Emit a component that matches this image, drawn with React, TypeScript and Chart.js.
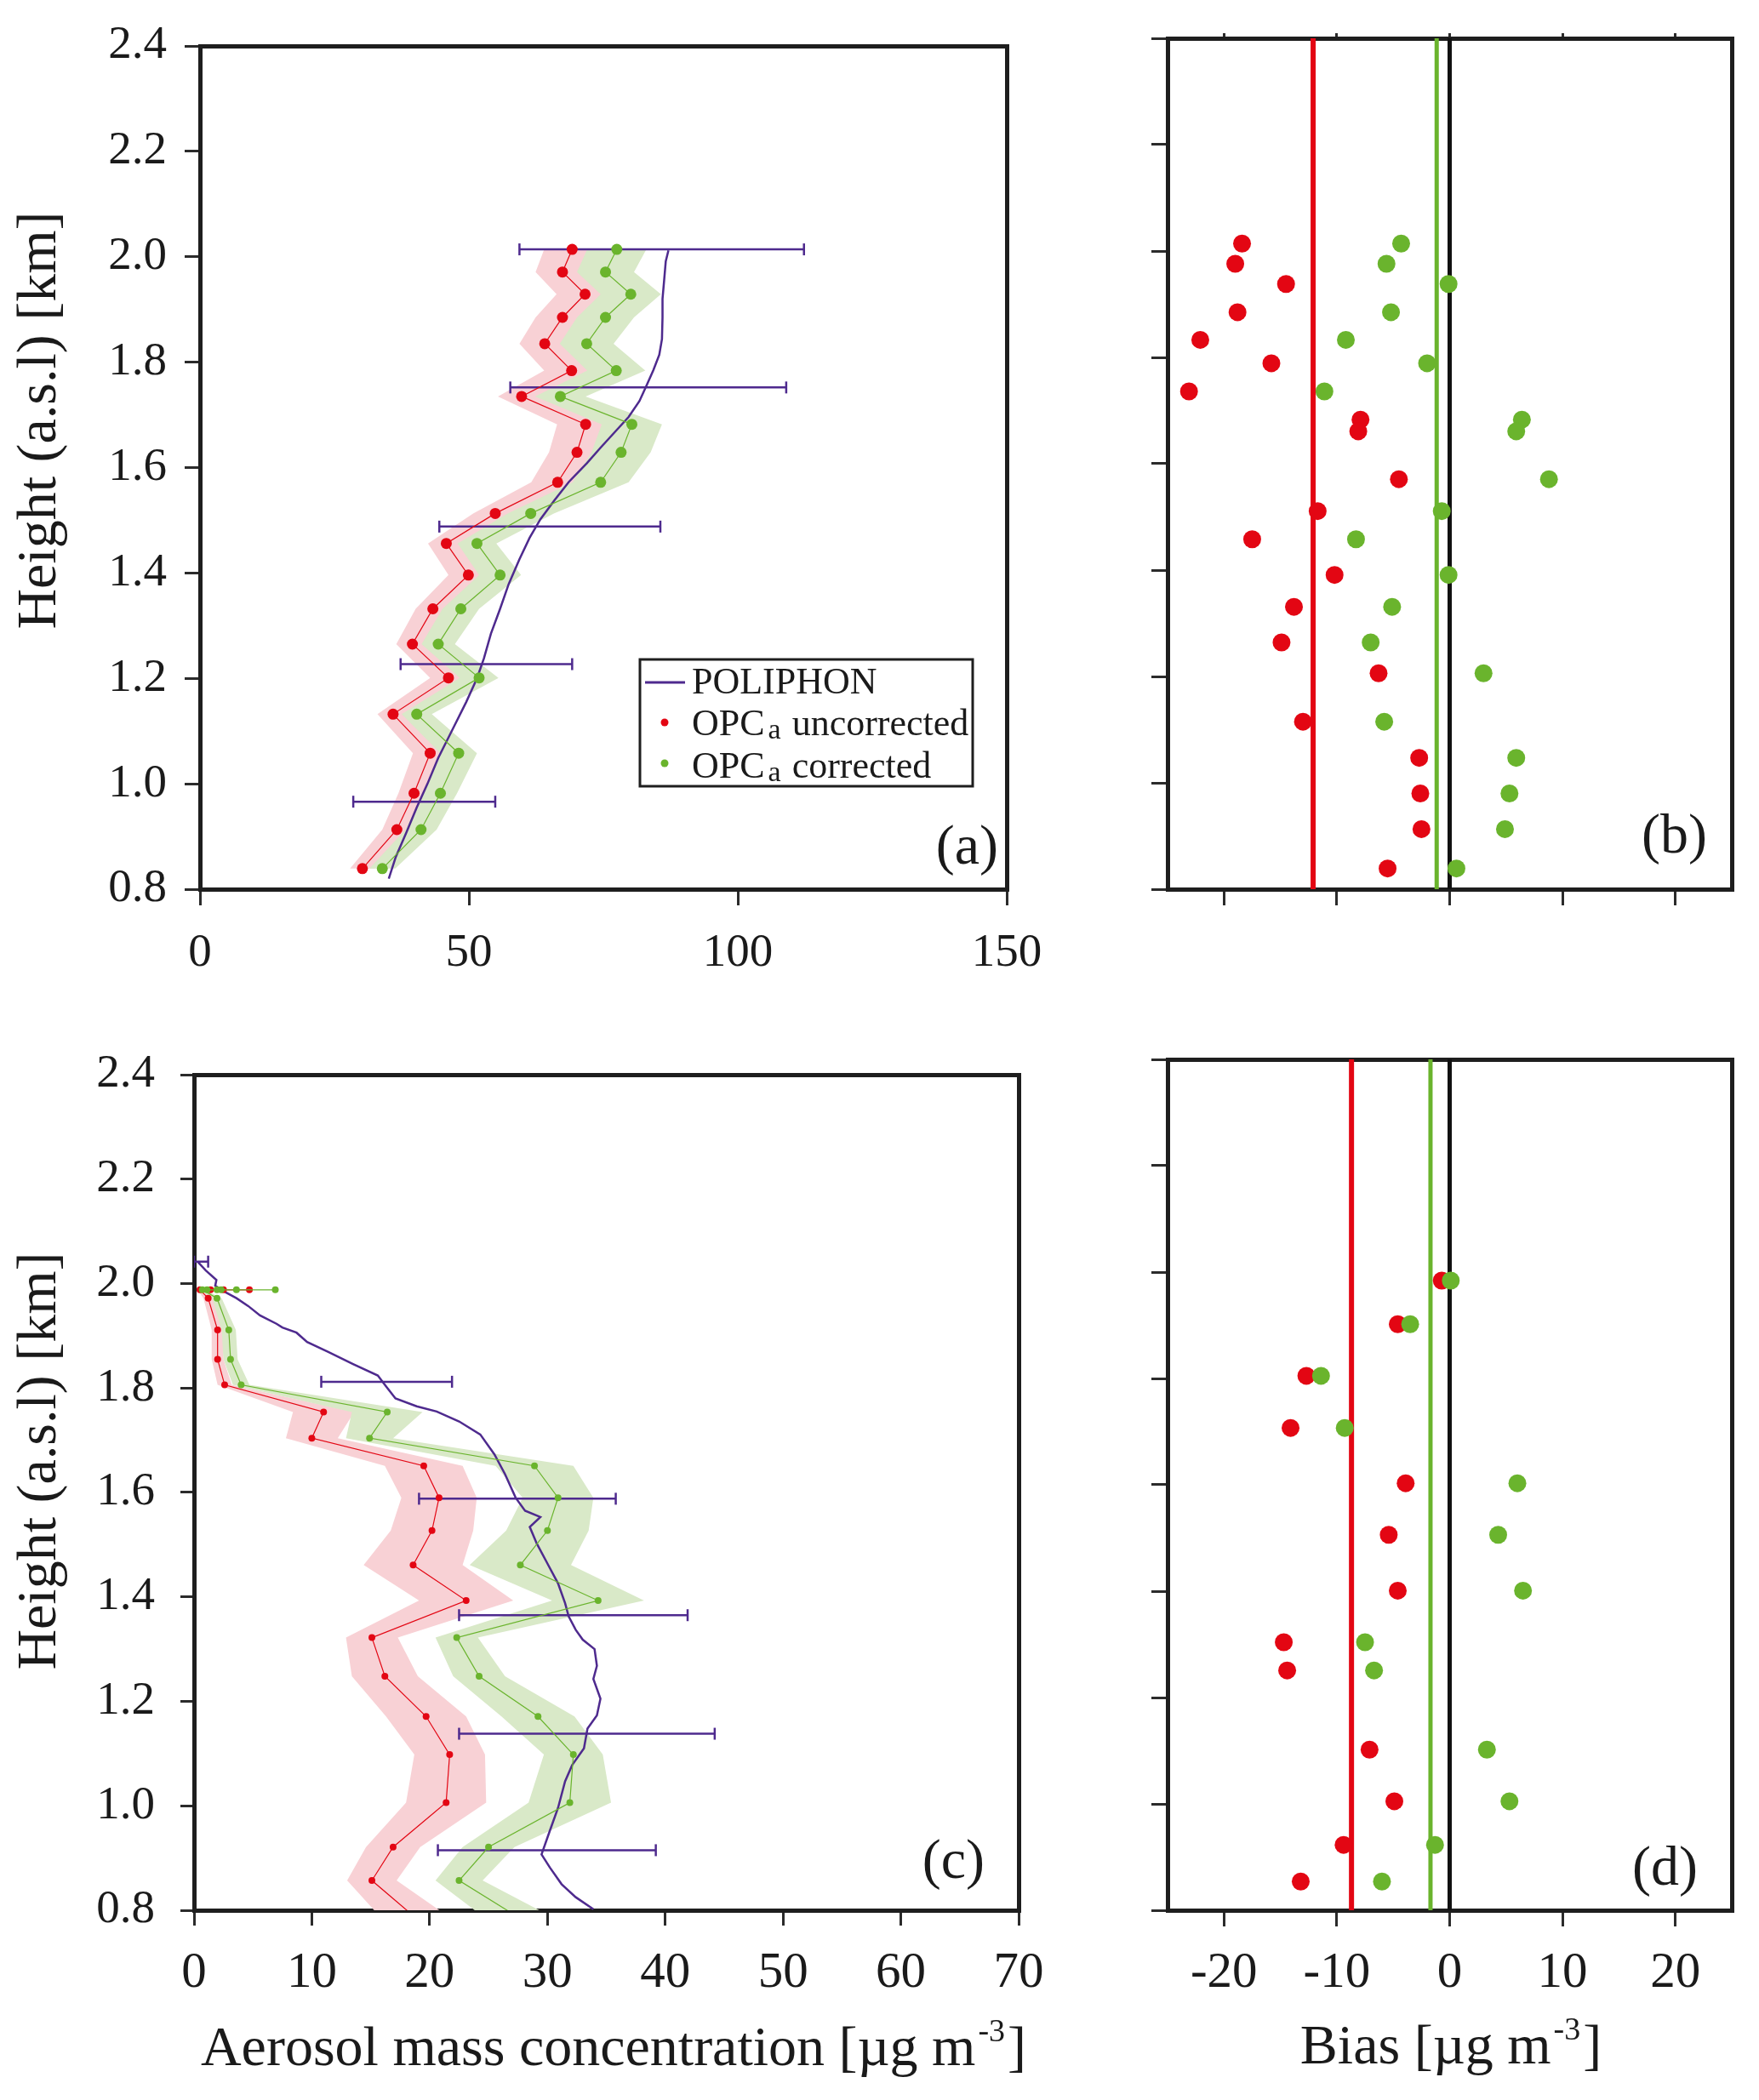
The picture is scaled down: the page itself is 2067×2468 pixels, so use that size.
import React, { useEffect, useRef } from 'react';
import { Chart, registerables } from 'chart.js';

Chart.register(...registerables);

// ---------------- styles ----------------
const FONT = '"Liberation Serif", "Times New Roman", serif';
const TEXT = '#1a1a1a';
const FRAME = '#1e1e1e';
const TICK = '#2b2b2b';
const RED = '#e30613';
const GREEN = '#6ab42d';
const PURPLE = '#4e2a8e';
const RED_BAND = '#f8d1d5';
const GREEN_BAND = '#d9e9c8';

// ---------------- ticks ----------------
const heightTicks = [0.8, 1.0, 1.2, 1.4, 1.6, 1.8, 2.0, 2.2, 2.4];
const concTicksA = [0, 50, 100, 150];
const concTicksC = [0, 10, 20, 30, 40, 50, 60, 70];
const biasTicks = [-20, -10, 0, 10, 20];
const HEIGHT_MIN = 0.8;
const HEIGHT_MAX = 2.4;

// ---------------- panel (a) ----------------
const aHeights = [2.014, 1.971, 1.929, 1.885, 1.835, 1.784, 1.735, 1.682, 1.629, 1.572, 1.513, 1.456, 1.396, 1.332, 1.265, 1.201, 1.132, 1.058, 0.982, 0.913, 0.839];
const aUncorrected = [69.2, 67.4, 71.6, 67.4, 64.1, 69.1, 59.8, 71.7, 70.1, 66.5, 54.9, 45.8, 49.9, 43.3, 39.5, 46.2, 35.9, 42.8, 39.8, 36.6, 30.2];
const aUncorrectedErr = [5.2, 5.0, 5.3, 5.0, 4.7, 5.1, 4.4, 5.3, 5.2, 4.9, 4.1, 3.4, 3.7, 3.2, 3.0, 3.4, 2.9, 3.2, 2.9, 2.7, 2.3];
const aCorrected = [77.5, 75.4, 80.1, 75.4, 71.9, 77.4, 67.0, 80.3, 78.3, 74.5, 61.5, 51.5, 55.8, 48.5, 44.3, 51.9, 40.3, 48.1, 44.7, 41.1, 33.9];
const aCorrectedErr = [5.5, 5.3, 5.6, 5.3, 5.0, 5.4, 4.7, 5.6, 5.5, 5.2, 4.3, 3.6, 3.9, 3.4, 3.1, 3.6, 2.8, 3.4, 3.1, 2.9, 2.4];
const aPoliphonConc = [35.1, 36.4, 38.4, 40.3, 42.3, 44.3, 46.9, 49.5, 51.5, 52.8, 54.1, 55.8, 57.4, 59.4, 61.3, 63.3, 65.9, 68.6, 71.9, 74.5, 77.1, 79.7, 81.7, 83.0, 84.3, 85.4, 85.9, 86.0, 86.0, 86.3, 86.6, 87.1];
const aPoliphonHeight = [0.820, 0.861, 0.908, 0.955, 1.000, 1.049, 1.102, 1.155, 1.200, 1.238, 1.285, 1.332, 1.379, 1.426, 1.467, 1.502, 1.538, 1.573, 1.608, 1.638, 1.667, 1.696, 1.726, 1.755, 1.785, 1.814, 1.844, 1.885, 1.920, 1.955, 1.991, 2.012];
const aErrHeights = [2.014, 1.752, 1.488, 1.227, 0.966];
const aErrLow = [59.4, 57.7, 44.5, 37.3, 28.5];
const aErrHigh = [112.3, 109.0, 85.6, 69.2, 54.9];

// ---------------- panel (b) ----------------
const bHeights = [2.014, 1.976, 1.938, 1.885, 1.833, 1.789, 1.736, 1.683, 1.661, 1.571, 1.511, 1.458, 1.391, 1.331, 1.264, 1.206, 1.115, 1.047, 0.980, 0.913, 0.839];
const bUncorrected = [-18.4, -19.0, -14.5, -18.8, -22.1, -15.8, -23.1, -7.9, -8.1, -4.5, -11.7, -17.5, -10.2, -13.8, -14.9, -6.3, -13.0, -2.7, -2.6, -2.5, -5.5];
const bCorrected = [-4.3, -5.6, -0.1, -5.2, -9.2, -2.0, -11.1, 6.4, 5.9, 8.8, -0.7, -8.3, -0.1, -5.1, -7.0, 3.0, -5.8, 5.9, 5.3, 4.9, 0.6];
const bMeanUncorrected = -12.1;
const bMeanCorrected = -1.15;

// ---------------- panel (c) ----------------
const cUncHeights = [1.988, 1.988, 1.988, 1.988, 1.972, 1.911, 1.855, 1.806, 1.754, 1.704, 1.651, 1.590, 1.527, 1.461, 1.393, 1.322, 1.248, 1.171, 1.098, 1.006, 0.921, 0.857, 0.780];
const cUncorrected = [4.7, 2.5, 1.4, 0.5, 1.2, 2.0, 2.0, 2.6, 11.0, 10.0, 19.5, 20.8, 20.2, 18.6, 23.1, 15.1, 16.2, 19.7, 21.7, 21.4, 16.9, 15.1, 19.1];
const cUncorrectedErr = [0.2, 0.2, 0.2, 0.2, 0.4, 0.5, 0.5, 0.6, 2.6, 2.2, 3.3, 3.2, 3.5, 4.2, 4.0, 2.2, 2.8, 3.4, 3.0, 3.4, 2.3, 2.1, 3.0];
const cCorHeights = [1.988, 1.988, 1.988, 1.988, 1.988, 1.988, 1.972, 1.911, 1.855, 1.806, 1.754, 1.704, 1.651, 1.590, 1.527, 1.461, 1.393, 1.322, 1.248, 1.171, 1.098, 1.006, 0.921, 0.857, 0.780];
const cCorrected = [6.9, 3.6, 2.3, 1.95, 1.1, 0.7, 1.95, 2.95, 3.1, 4.0, 16.4, 14.9, 28.9, 30.9, 30.0, 27.7, 34.3, 22.3, 24.2, 29.2, 32.2, 31.9, 25.0, 22.5, 28.0];
const cCorrectedErr = [0.2, 0.2, 0.2, 0.2, 0.2, 0.2, 0.4, 0.6, 0.6, 0.7, 3.0, 2.0, 3.3, 3.0, 3.5, 4.3, 3.9, 1.8, 2.2, 3.1, 2.5, 3.5, 2.2, 2.0, 3.0];
const cPoliphonConc = [0.3, 1.0, 1.9, 1.8, 2.7, 3.6, 4.6, 5.6, 7.0, 7.5, 8.7, 9.6, 11.4, 13.5, 15.6, 16.2, 17.1, 18.9, 20.6, 22.5, 24.3, 25.5, 26.4, 27.3, 28.1, 29.4, 28.5, 29.1, 30.0, 30.9, 31.5, 31.8, 32.4, 33.0, 34.0, 34.2, 33.9, 34.5, 34.2, 33.4, 33.1, 32.1, 31.5, 30.9, 30.2, 29.5, 30.2, 31.2, 32.4, 33.9];
const cPoliphonHeight = [2.042, 2.025, 2.007, 1.996, 1.983, 1.972, 1.957, 1.939, 1.923, 1.916, 1.906, 1.888, 1.869, 1.846, 1.824, 1.806, 1.780, 1.765, 1.755, 1.736, 1.711, 1.673, 1.635, 1.590, 1.565, 1.553, 1.534, 1.502, 1.464, 1.426, 1.388, 1.363, 1.337, 1.318, 1.300, 1.268, 1.243, 1.205, 1.173, 1.148, 1.110, 1.078, 1.047, 0.996, 0.952, 0.907, 0.882, 0.850, 0.825, 0.802];
const cErrHeights = [2.042, 1.812, 1.588, 1.365, 1.138, 0.915];
const cErrLow = [0.0, 10.8, 19.1, 22.5, 22.5, 20.7];
const cErrHigh = [1.2, 21.9, 35.8, 41.9, 44.2, 39.2];

// ---------------- panel (d) ----------------
const dHeights = [1.984, 1.902, 1.805, 1.707, 1.603, 1.506, 1.401, 1.304, 1.251, 1.102, 1.005, 0.923, 0.854];
const dUncorrected = [-0.7, -4.6, -12.7, -14.1, -3.9, -5.4, -4.6, -14.7, -14.4, -7.1, -4.9, -9.4, -13.2];
const dCorrected = [0.1, -3.5, -11.4, -9.3, 6.0, 4.3, 6.5, -7.5, -6.7, 3.3, 5.3, -1.3, -6.0];
const dMeanUncorrected = -8.7;
const dMeanCorrected = -1.7;

// ---------------- helpers ----------------
type Box = { left: number; top: number; width: number; height: number };

const xy = (xs: number[], ys: number[]) => xs.map((x, i) => ({ x, y: ys[i] }));

const bandPolygon = (vals: number[], errs: number[], hs: number[]) => [
  ...vals.map((v, i) => ({ x: v - errs[i], y: hs[i] })),
  ...vals.map((v, i) => ({ x: v + errs[i], y: hs[i] })).reverse(),
];

const profile = (xs: number[], hs: number[], color: string, r: number, clip?: number) => ({
  data: xy(xs, hs),
  showLine: true,
  borderColor: color,
  borderWidth: 1.2,
  pointRadius: r,
  pointHoverRadius: r,
  pointBackgroundColor: color,
  pointBorderColor: color,
  pointBorderWidth: 0,
  ...(clip !== undefined ? { clip } : {}),
});

const dots = (xs: number[], hs: number[], color: string, r: number) => ({
  data: xy(xs, hs),
  showLine: false,
  pointRadius: r,
  pointHoverRadius: r,
  pointBackgroundColor: color,
  pointBorderColor: color,
  pointBorderWidth: 0,
});

const band = (vals: number[], errs: number[], hs: number[], color: string, clip?: number) => ({
  data: bandPolygon(vals, errs, hs),
  showLine: true,
  fill: 'shape',
  backgroundColor: color,
  borderColor: 'rgba(0,0,0,0)',
  borderWidth: 0.01,
  pointRadius: 0,
  pointHoverRadius: 0,
  ...(clip !== undefined ? { clip } : {}),
});

const curve = (xs: number[], hs: number[], color: string, w: number) => ({
  data: xy(xs, hs),
  showLine: true,
  borderColor: color,
  borderWidth: w,
  pointRadius: 0,
  pointHoverRadius: 0,
});

const errorBars = (lo: number[], hi: number[], hs: number[]) =>
  hs.map((h, i) => ({
    data: [{ x: lo[i], y: h }, { x: hi[i], y: h }],
    showLine: true,
    borderColor: PURPLE,
    borderWidth: 2.5,
    pointStyle: 'line',
    rotation: 90,
    pointRadius: 7,
    pointHoverRadius: 7,
    pointBorderColor: PURPLE,
    pointBorderWidth: 2.5,
  }));

const vline = (v: number, color: string, w: number) => ({
  data: [{ x: v, y: HEIGHT_MIN }, { x: v, y: HEIGHT_MAX }],
  showLine: true,
  borderColor: color,
  borderWidth: w,
  pointRadius: 0,
  pointHoverRadius: 0,
});

interface FrameOpts {
  xMin: number; xMax: number; xTicks: number[]; xLabels: boolean; yLabels: boolean;
  yAxisWidth: number; xAxisHeight: number; topAxisHeight: number;
  yTickLen: number; yLabelPad: number; xTickLen: number; xLabelPad: number;
  xFontSize: number; yFontSize: number;
}

function frameScales(o: FrameOpts) {
  const grid = (tickLength: number, drawTicks: boolean) => ({
    display: true,
    drawOnChartArea: false,
    drawTicks,
    tickLength,
    tickWidth: 3,
    tickColor: TICK,
    lineWidth: 5,
    color: FRAME,
  });
  const border = { display: true, width: 5, color: FRAME };
  return {
    x: {
      type: 'linear', position: 'bottom', min: o.xMin, max: o.xMax, z: 1,
      afterBuildTicks: (s: any) => { s.ticks = o.xTicks.map((v) => ({ value: v })); },
      afterFit: (s: any) => { s.height = o.xAxisHeight; },
      grid: grid(o.xTickLen, true), border,
      ticks: { display: o.xLabels, padding: o.xLabelPad, font: { family: FONT, size: o.xFontSize }, color: TEXT, maxRotation: 0, minRotation: 0, autoSkip: false, callback: (v: any) => String(v) },
    },
    x2: {
      type: 'linear', position: 'top', min: o.xMin, max: o.xMax, z: 1,
      afterBuildTicks: (s: any) => { s.ticks = o.xTicks.map((v) => ({ value: v })); },
      afterFit: (s: any) => { s.height = o.topAxisHeight; },
      grid: grid(6, o.topAxisHeight > 0), border,
      ticks: { display: false },
    },
    y: {
      type: 'linear', position: 'left', min: HEIGHT_MIN, max: HEIGHT_MAX, z: 1,
      afterBuildTicks: (s: any) => { s.ticks = heightTicks.map((v) => ({ value: v })); },
      afterFit: (s: any) => { s.width = o.yAxisWidth; },
      grid: grid(o.yTickLen, true), border,
      ticks: { display: o.yLabels, padding: o.yLabelPad, font: { family: FONT, size: o.yFontSize }, color: TEXT, autoSkip: false, callback: (v: any) => Number(v).toFixed(1) },
    },
    y2: {
      type: 'linear', position: 'right', min: HEIGHT_MIN, max: HEIGHT_MAX, z: 1,
      afterFit: (s: any) => { s.width = 0; },
      grid: grid(0, false), border,
      ticks: { display: false },
    },
  };
}

// ---------- text drawing helpers (page coordinates) ----------
function rotatedTitle(ctx: CanvasRenderingContext2D, text: string, x: number, y: number) {
  ctx.save();
  ctx.translate(x, y);
  ctx.rotate(-Math.PI / 2);
  ctx.font = `66px ${FONT}`;
  ctx.fillStyle = TEXT;
  ctx.textAlign = 'center';
  ctx.textBaseline = 'middle';
  ctx.fillText(text, 0, 0);
  ctx.restore();
}

function unitTitle(ctx: CanvasRenderingContext2D, prefix: string, cx: number, baseline: number) {
  const main = `${prefix} [\u00b5g m`;
  ctx.save();
  ctx.fillStyle = TEXT;
  ctx.textAlign = 'left';
  ctx.textBaseline = 'alphabetic';
  ctx.font = `66px ${FONT}`;
  const w1 = ctx.measureText(main).width;
  const w3 = ctx.measureText(']').width;
  ctx.font = `38px ${FONT}`;
  const w2 = ctx.measureText('-3').width;
  let x = cx - (w1 + w2 + w3 + 6) / 2;
  ctx.font = `66px ${FONT}`;
  ctx.fillText(main, x, baseline);
  x += w1 + 3;
  ctx.font = `38px ${FONT}`;
  ctx.fillText('-3', x, baseline - 28);
  x += w2 + 3;
  ctx.font = `66px ${FONT}`;
  ctx.fillText(']', x, baseline);
  ctx.restore();
}

function panelLabel(ctx: CanvasRenderingContext2D, text: string, right: number, cy: number) {
  ctx.save();
  ctx.font = `66px ${FONT}`;
  ctx.fillStyle = TEXT;
  ctx.textAlign = 'right';
  ctx.textBaseline = 'middle';
  ctx.fillText(text, right, cy);
  ctx.restore();
}

function legendBox(ctx: CanvasRenderingContext2D) {
  ctx.save();
  ctx.fillStyle = '#ffffff';
  ctx.fillRect(752, 775, 391, 149);
  ctx.lineWidth = 3;
  ctx.strokeStyle = FRAME;
  ctx.strokeRect(752, 775, 391, 149);
  ctx.strokeStyle = PURPLE;
  ctx.lineWidth = 3;
  ctx.beginPath();
  ctx.moveTo(758, 802);
  ctx.lineTo(805, 802);
  ctx.stroke();
  ctx.fillStyle = TEXT;
  ctx.textAlign = 'left';
  ctx.textBaseline = 'alphabetic';
  ctx.font = `44px ${FONT}`;
  ctx.fillText('POLIPHON', 813, 815);
  const entries: [string, string, number, number][] = [
    [RED, ' uncorrected', 849, 864],
    [GREEN, ' corrected', 897, 914],
  ];
  for (const [col, rest, dotY, base] of entries) {
    ctx.fillStyle = col;
    ctx.beginPath();
    ctx.arc(781, dotY, 4.5, 0, Math.PI * 2);
    ctx.fill();
    ctx.fillStyle = TEXT;
    ctx.font = `44px ${FONT}`;
    ctx.fillText('OPC', 813, base);
    const w = ctx.measureText('OPC').width;
    ctx.font = `34px ${FONT}`;
    ctx.fillText('a', 813 + w + 4, base + 4);
    const wa = ctx.measureText('a').width;
    ctx.font = `44px ${FONT}`;
    ctx.fillText(rest, 813 + w + 6 + wa, base);
  }
  ctx.restore();
}

function decoPlugin(box: Box, draw: (ctx: CanvasRenderingContext2D) => void) {
  return {
    id: 'deco',
    afterDraw(chart: any) {
      const ctx = chart.ctx as CanvasRenderingContext2D;
      ctx.save();
      ctx.translate(-box.left, -box.top);
      draw(ctx);
      ctx.restore();
    },
  };
}

function baseOptions(pad: { top: number; right: number }, scales: any) {
  return {
    responsive: false,
    maintainAspectRatio: false,
    animation: false,
    events: [],
    layout: { padding: { left: 0, bottom: 0, top: pad.top, right: pad.right } },
    plugins: { legend: { display: false }, tooltip: { enabled: false }, title: { display: false } },
    scales,
  };
}

// ---------------- chart boxes (page pixels) ----------------
const boxA: Box = { left: 0, top: 0, width: 1300, height: 1200 };
const boxB: Box = { left: 1300, top: 0, width: 767, height: 1200 };
const boxC: Box = { left: 0, top: 1200, width: 1300, height: 1268 };
const boxD: Box = { left: 1300, top: 1200, width: 767, height: 1268 };

function configA() {
  return {
    type: 'scatter',
    data: {
      datasets: [
        profile(aCorrected, aHeights, GREEN, 6.5),
        profile(aUncorrected, aHeights, RED, 6.5),
        curve(aPoliphonConc, aPoliphonHeight, PURPLE, 2.5),
        ...errorBars(aErrLow, aErrHigh, aErrHeights),
        band(aCorrected, aCorrectedErr, aHeights, GREEN_BAND),
        band(aUncorrected, aUncorrectedErr, aHeights, RED_BAND),
      ],
    },
    options: baseOptions({ top: 45, right: 117 }, frameScales({
      xMin: 0, xMax: 150, xTicks: concTicksA, xLabels: true, yLabels: true,
      yAxisWidth: 235, xAxisHeight: 1200 - 1045, topAxisHeight: 0,
      yTickLen: 18, yLabelPad: 21, xTickLen: 19, xLabelPad: 24,
      xFontSize: 55, yFontSize: 55,
    })),
    plugins: [decoPlugin(boxA, (ctx) => {
      rotatedTitle(ctx, 'Height (a.s.l) [km]', 48, 494);
      legendBox(ctx);
      panelLabel(ctx, '(a)', 1173, 998);
    })],
  };
}

function configB() {
  return {
    type: 'scatter',
    data: {
      datasets: [
        dots(bCorrected, bHeights, GREEN, 10.5),
        dots(bUncorrected, bHeights, RED, 10.5),
        vline(0, '#111111', 5),
        vline(bMeanCorrected, GREEN, 5),
        vline(bMeanUncorrected, RED, 6),
      ],
    },
    options: baseOptions({ top: 45 - 6, right: 32 }, frameScales({
      xMin: -25, xMax: 25, xTicks: biasTicks, xLabels: false, yLabels: false,
      yAxisWidth: 72, xAxisHeight: 1200 - 1045, topAxisHeight: 6,
      yTickLen: 19, yLabelPad: 10, xTickLen: 19, xLabelPad: 24,
      xFontSize: 55, yFontSize: 55,
    })),
    plugins: [decoPlugin(boxB, (ctx) => {
      panelLabel(ctx, '(b)', 2006, 985);
    })],
  };
}

function configC() {
  return {
    type: 'scatter',
    data: {
      datasets: [
        profile(cCorrected, cCorHeights, GREEN, 4, 0),
        profile(cUncorrected, cUncHeights, RED, 4, 0),
        curve(cPoliphonConc, cPoliphonHeight, PURPLE, 2.5),
        ...errorBars(cErrLow, cErrHigh, cErrHeights),
        band(cCorrected, cCorrectedErr, cCorHeights, GREEN_BAND, 0),
        band(cUncorrected, cUncorrectedErr, cUncHeights, RED_BAND, 0),
      ],
    },
    options: baseOptions({ top: 45, right: 103 }, frameScales({
      xMin: 0, xMax: 70, xTicks: concTicksC, xLabels: true, yLabels: true,
      yAxisWidth: 228, xAxisHeight: 1268 - 1045, topAxisHeight: 0,
      yTickLen: 16, yLabelPad: 30, xTickLen: 18, xLabelPad: 21,
      xFontSize: 59, yFontSize: 55,
    })),
    plugins: [decoPlugin(boxC, (ctx) => {
      rotatedTitle(ctx, 'Height (a.s.l) [km]', 48, 1717);
      unitTitle(ctx, 'Aerosol mass concentration', 721, 2427);
      panelLabel(ctx, '(c)', 1157, 2190);
    })],
  };
}

function configD() {
  return {
    type: 'scatter',
    data: {
      datasets: [
        dots(dCorrected, dHeights, GREEN, 10.5),
        dots(dUncorrected, dHeights, RED, 10.5),
        vline(0, '#111111', 5),
        vline(dMeanCorrected, GREEN, 5),
        vline(dMeanUncorrected, RED, 6),
      ],
    },
    options: baseOptions({ top: 45, right: 32 }, frameScales({
      xMin: -25, xMax: 25, xTicks: biasTicks, xLabels: true, yLabels: false,
      yAxisWidth: 72, xAxisHeight: 1268 - 1045, topAxisHeight: 0,
      yTickLen: 19, yLabelPad: 10, xTickLen: 19, xLabelPad: 20,
      xFontSize: 59, yFontSize: 55,
    })),
    plugins: [decoPlugin(boxD, (ctx) => {
      unitTitle(ctx, 'Bias', 1705, 2425);
      panelLabel(ctx, '(d)', 1995, 2198);
    })],
  };
}

function ChartBox({ box, build }: { box: Box; build: () => any }) {
  const ref = useRef<HTMLCanvasElement>(null);
  useEffect(() => {
    const canvas = ref.current;
    if (!canvas) return;
    const chart = new Chart(canvas, build());
    return () => chart.destroy();
  }, []);
  return (
    <canvas
      ref={ref}
      width={box.width}
      height={box.height}
      style={{ position: 'absolute', left: box.left, top: box.top, width: box.width, height: box.height }}
    />
  );
}

export default function App() {
  return (
    <div style={{ position: 'fixed', left: 0, top: 0, width: 2067, height: 2468, background: '#ffffff', overflow: 'hidden' }}>
      <ChartBox box={boxA} build={configA} />
      <ChartBox box={boxB} build={configB} />
      <ChartBox box={boxC} build={configC} />
      <ChartBox box={boxD} build={configD} />
    </div>
  );
}
